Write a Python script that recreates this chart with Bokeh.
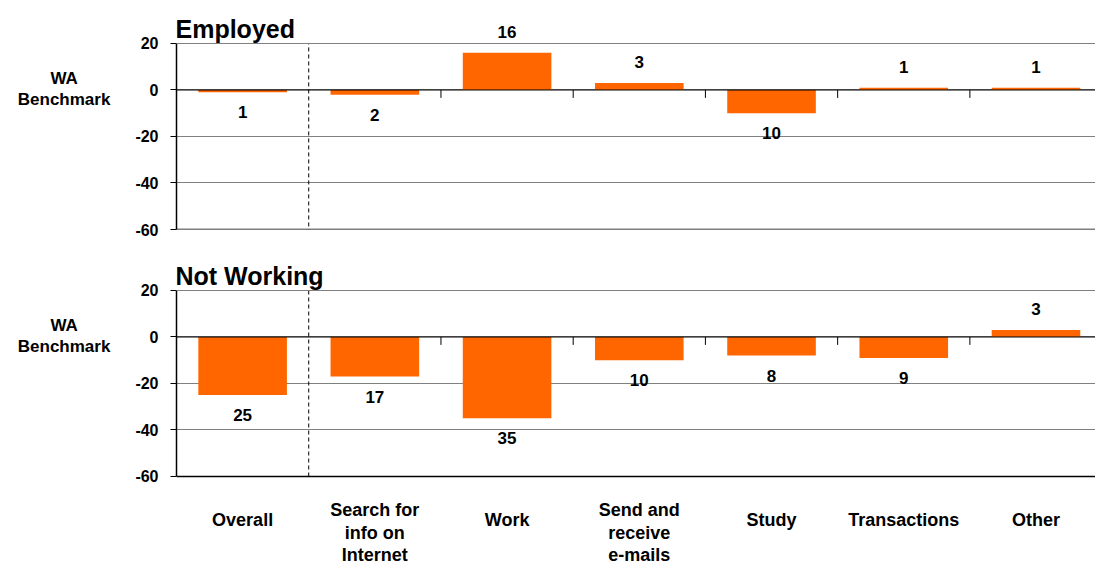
from bokeh.plotting import figure
from bokeh.layouts import column, row
from bokeh.models import Range1d, FixedTicker, Span
from bokeh.embed import file_html
from bokeh.resources import INLINE
from bokeh.core.properties import value

categories = ["Overall", "Search for\ninfo on\nInternet", "Work", "Send and\nreceive\ne-mails",
              "Study", "Transactions", "Other"]
employed = [-1, -2, 16, 3, -10, 1, 1]
not_working = [-25, -17, -35, -10, -8, -9, 3]
panel_titles = ["Employed", "Not Working"]
y_ticks = [-60, -40, -20, 0, 20]
axis_title = "WA\nBenchmark"

FONT = "Liberation Sans"
ORANGE = "#FF6600"
GRID = "#808080"
LEFT_W = 120
TOTAL_W = 1095


def make_panel(vals, title, height, y_lo, y_hi, border_bottom, dash_lo, show_cats):
    yr = Range1d(y_lo, y_hi)
    p = figure(width=TOTAL_W - LEFT_W, height=height, output_backend="svg",
               toolbar_location=None,
               x_range=Range1d(0, 6.95), y_range=yr,
               x_axis_location=None,
               min_border_left=176 - LEFT_W, min_border_right=0,
               min_border_top=0, min_border_bottom=border_bottom)
    p.outline_line_color = None
    p.xgrid.grid_line_color = None

    ax = p.yaxis[0]
    ax.ticker = FixedTicker(ticks=y_ticks)
    ax.bounds = (y_ticks[0], y_ticks[-1])
    ax.major_label_overrides = {t: str(t) for t in y_ticks}
    ax.major_label_text_font = FONT
    ax.major_label_text_font_style = "bold"
    ax.major_label_text_font_size = "16px"
    ax.major_label_text_color = "black"
    ax.major_label_standoff = 12
    ax.axis_line_color = "black"
    ax.axis_line_width = 1.5
    ax.major_tick_in = 0
    ax.major_tick_out = 6
    ax.major_tick_line_color = "black"
    ax.minor_tick_line_color = None

    p.ygrid.ticker = FixedTicker(ticks=y_ticks[1:-1])
    p.ygrid.grid_line_color = GRID
    p.ygrid.grid_line_width = 1

    p.add_layout(Span(location=y_ticks[-1], dimension="width", line_color=GRID, line_width=1))
    p.add_layout(Span(location=0, dimension="width", line_color="black", line_width=1.2))
    p.add_layout(Span(location=y_ticks[0], dimension="width", line_color="black", line_width=1.5))

    # dashed separator after "Overall"
    p.segment(x0=[1], x1=[1], y0=[dash_lo], y1=[y_ticks[-1]], line_color="black",
              line_width=1, line_dash="4 3")

    xs = [i + 0.5 for i in range(len(categories))]
    p.vbar(x=xs, top=vals, bottom=0, width=0.67, fill_color=ORANGE, line_color=None)

    # small category tick marks on zero line
    bx = list(range(2, len(categories)))
    p.segment(x0=bx, x1=bx, y0=[0] * len(bx), y1=[-3.4] * len(bx),
              line_color="black", line_width=1)

    p.text(x=xs, y=vals, text=[str(abs(v)) for v in vals],
           y_offset=[20 if v < 0 else -21 for v in vals],
           text_align="center", text_baseline="middle",
           text_font_size="17px", text_font_style="bold", text_color="black",
           text_font=value(FONT))

    p.text(x=[0], y=[y_ticks[-1]], text=[title], x_offset=-1, y_offset=-14,
           text_align="left", text_baseline="alphabetic",
           text_font_size="25px", text_font_style="bold", text_color="black",
           text_font=value(FONT))

    if show_cats:
        p.text(x=xs, y=[y_ticks[0]] * len(xs), text=categories,
               y_offset=[24 if "\n" in c else 34 for c in categories],
               text_align="center", text_baseline="top",
               text_font_size="18px", text_font_style="bold", text_color="black",
               text_line_height=1.12, text_font=value(FONT))

    # left side panel with the axis title
    q = figure(width=LEFT_W, height=height, output_backend="svg", toolbar_location=None,
               x_range=Range1d(0, 1), y_range=yr,
               x_axis_location=None, y_axis_location=None,
               min_border_left=0, min_border_right=0,
               min_border_top=0, min_border_bottom=border_bottom)
    q.outline_line_color = None
    q.xgrid.grid_line_color = None
    q.ygrid.grid_line_color = None
    q.text(x=[0.53], y=[0], text=[axis_title], y_offset=-1,
           text_align="center", text_baseline="middle",
           text_font_size="17px", text_font_style="bold", text_color="black",
           text_line_height=1.12, text_font=value(FONT))
    return row(q, p, spacing=0)


r1 = make_panel(employed, panel_titles[0], 250, -60, 38.49, 21, -64.7, False)
r2 = make_panel(not_working, panel_titles[1], 319, -100, 37.2, 0, -60, True)
layout = column(r1, r2, spacing=0)

open("out.html", "w").write(file_html(layout, INLINE))
